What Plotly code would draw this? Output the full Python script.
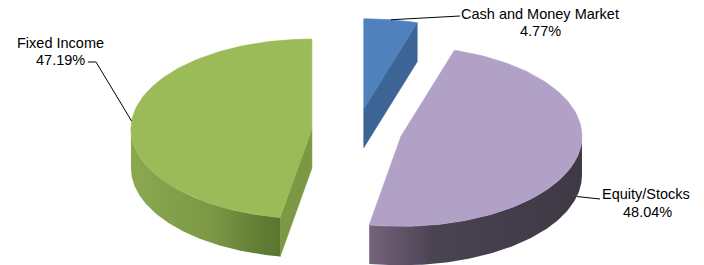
import numpy as np
import plotly.graph_objects as go

# ---- data ----
labels = ["Cash and Money Market", "Equity/Stocks", "Fixed Income"]
values = [4.77, 48.04, 47.19]

top_colors = ["#4f81bd", "#b2a1c7", "#9bbb59"]
radial_colors = ["#3c6595", "#4a4352", "#7c9844"]
side_scales = [
    [[0, "#3c6595"], [1, "#30527a"]],
    [[0, "#72647a"], [0.12, "#66566c"], [0.3, "#4a4352"], [1, "#3e3945"]],
    [[0, "#8aa94f"], [0.55, "#7b9744"], [0.9, "#5f7a32"], [1, "#5b762f"]],
]

# ---- geometry of the 3-D exploded pie (screen pixel space) ----
CX, CY = 357.0, 131.0
RX, RY = 181.0, 90.0
DEPTH = 39.0
EXPLODE = 0.25

total = sum(values)
fracs = [v / total for v in values]
bounds = np.concatenate([[0.0], np.cumsum(fracs) * 360.0])


def pt(cx, cy, th, dz=0.0):
    r = np.radians(th)
    return cx + RX * np.sin(r), cy - RY * np.cos(r) + dz


def arc(cx, cy, a0, a1, dz=0.0, n=120):
    ths = np.linspace(a0, a1, n)
    r = np.radians(ths)
    return list(cx + RX * np.sin(r)), list(cy - RY * np.cos(r) + dz)


fig = go.Figure()


def poly(xs, ys, color=None, scale=None):
    xs = list(xs) + [xs[0]]
    ys = list(ys) + [ys[0]]
    kw = dict(x=xs, y=ys, mode="lines", fill="toself", hoverinfo="skip",
              showlegend=False)
    if scale is not None:
        kw["fillgradient"] = dict(type="horizontal", colorscale=scale)
        kw["line"] = dict(width=0)
        kw["fillcolor"] = scale[0][1]
    else:
        kw["fillcolor"] = color
        kw["line"] = dict(width=0.6, color=color)
    fig.add_trace(go.Scatter(**kw))


centers = []
for i in range(len(values)):
    a0, a1 = bounds[i], bounds[i + 1]
    mid = (a0 + a1) / 2
    m = np.radians(mid)
    cx = CX + EXPLODE * RX * np.sin(m)
    cy = CY - EXPLODE * RY * np.cos(m)
    centers.append((cx, cy, a0, a1, mid))

# draw order: back slice (cash) first
for i in [0, 2, 1]:
    cx, cy, a0, a1, mid = centers[i]
    # radial faces
    if np.sin(np.radians(a0)) < -1e-6:
        px, py = pt(cx, cy, a0)
        poly([cx, px, px, cx], [cy, py, py + DEPTH, cy + DEPTH], color=radial_colors[i])
    if np.sin(np.radians(a1)) > 1e-6:
        px, py = pt(cx, cy, a1)
        poly([cx, px, px, cx], [cy, py, py + DEPTH, cy + DEPTH], color=radial_colors[i])
    # outer curved side (front half only: 90..270)
    s0, s1 = max(a0, 90.0), min(a1, 270.0)
    if s1 > s0:
        tx, ty = arc(cx, cy, s0, s1)
        bx, by = arc(cx, cy, s1, s0, DEPTH)
        poly(tx + bx, ty + by, scale=side_scales[i])
    # top face
    ax_, ay_ = arc(cx, cy, a0, a1)
    poly([cx] + ax_, [cy] + ay_, color=top_colors[i])

# ---- labels and leader lines ----
FONT = dict(family="Liberation Sans, Arial, sans-serif", size=14.5, color="#000000")
label_pos = {
    0: ((540, 14), (540, 31)),
    2: ((60, 43), (60, 60)),
    1: ((646, 194), (647, 212)),
}
leader_end = {
    0: [(460, 16)],
    2: [(96, 62), (88, 62)],
    1: [(600, 199)],
}
for i in range(len(values)):
    cx, cy, a0, a1, mid = centers[i]
    sx, sy = pt(cx, cy, mid, DEPTH if 90 < mid < 270 and i == 1 else 0.0)
    xs = [sx] + [p[0] for p in leader_end[i]]
    ys = [sy] + [p[1] for p in leader_end[i]]
    fig.add_trace(go.Scatter(x=xs, y=ys, mode="lines", hoverinfo="skip",
                             showlegend=False, line=dict(color="#000000", width=1)))
    (x1, y1), (x2, y2) = label_pos[i]
    fig.add_annotation(x=x1, y=y1, text=labels[i], showarrow=False,
                       xanchor="center", yanchor="middle", font=FONT)
    fig.add_annotation(x=x2, y=y2, text=f"{values[i]:.2f}%", showarrow=False,
                       xanchor="center", yanchor="middle", font=FONT)

fig.update_layout(
    width=704, height=265,
    margin=dict(l=0, r=0, t=0, b=0),
    paper_bgcolor="white", plot_bgcolor="white",
    hovermode=False,
    xaxis=dict(range=[0, 704], visible=False, fixedrange=True),
    yaxis=dict(range=[265, 0], visible=False, fixedrange=True),
)
fig.write_html(
    "out.html",
    config={"displayModeBar": False, "staticPlot": True},
    post_script="document.body.style.margin='0px';document.body.style.overflow='hidden';",
)
